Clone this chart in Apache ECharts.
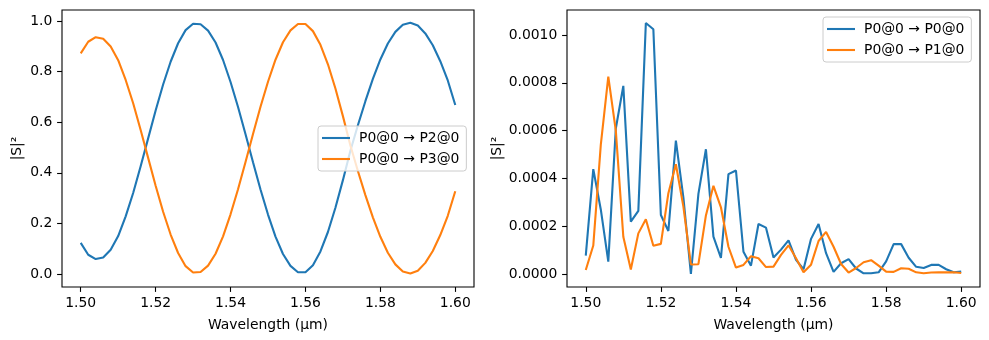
<!DOCTYPE html>
<html>
<head>
<meta charset="utf-8">
<script src="https://cdn.jsdelivr.net/npm/echarts@6/dist/echarts.min.js"></script>
<style>
  html, body { margin: 0; padding: 0; background: #fff; }
  #chart { width: 989px; height: 340px; }
</style>
</head>
<body>
<div id="chart"></div>
<script>
// Wavelength samples (µm)
const wavelength = [
  1.500, 1.502, 1.504, 1.506, 1.508, 1.510, 1.512, 1.514, 1.516, 1.518,
  1.520, 1.522, 1.524, 1.526, 1.528, 1.530, 1.532, 1.534, 1.536, 1.538,
  1.540, 1.542, 1.544, 1.546, 1.548, 1.550, 1.552, 1.554, 1.556, 1.558,
  1.560, 1.562, 1.564, 1.566, 1.568, 1.570, 1.572, 1.574, 1.576, 1.578,
  1.580, 1.582, 1.584, 1.586, 1.588, 1.590, 1.592, 1.594, 1.596, 1.598,
  1.600
];

// Transmission |S|² into the two output ports
const p0ToP2 = [
  0.123, 0.076, 0.059, 0.065, 0.096, 0.150, 0.228, 0.320, 0.426, 0.536,
  0.646, 0.749, 0.839, 0.912, 0.964, 0.989, 0.987, 0.962, 0.915, 0.846,
  0.759, 0.660, 0.552, 0.442, 0.334, 0.235, 0.148, 0.079, 0.032, 0.007,
  0.007, 0.035, 0.089, 0.166, 0.262, 0.371, 0.487, 0.588, 0.683, 0.771,
  0.848, 0.911, 0.957, 0.985, 0.993, 0.982, 0.951, 0.904, 0.841, 0.765,
  0.668
];
const p0ToP3 = [
  0.872, 0.918, 0.936, 0.930, 0.899, 0.845, 0.767, 0.675, 0.569, 0.459,
  0.349, 0.246, 0.156, 0.083, 0.031, 0.006, 0.008, 0.033, 0.080, 0.149,
  0.236, 0.335, 0.443, 0.553, 0.661, 0.760, 0.847, 0.916, 0.963, 0.988,
  0.988, 0.960, 0.906, 0.829, 0.733, 0.624, 0.508, 0.407, 0.312, 0.224,
  0.147, 0.084, 0.038, 0.010, 0.002, 0.013, 0.044, 0.091, 0.154, 0.230,
  0.327
];

// Reflection / crosstalk |S|² back into the input side
const p0ToP0 = [
  0.000077, 0.000439, 0.000270, 0.000052, 0.000609, 0.000787, 0.000219, 0.000264, 0.001050, 0.001024,
  0.000247, 0.000180, 0.000558, 0.000320, 0.000000, 0.000335, 0.000522, 0.000156, 0.000067, 0.000418,
  0.000433, 0.000093, 0.000035, 0.000209, 0.000194, 0.000069, 0.000102, 0.000141, 0.000059, 0.000020,
  0.000147, 0.000209, 0.000087, 0.000009, 0.000045, 0.000062, 0.000023, 0.000003, 0.000003, 0.000007,
  0.000053, 0.000125, 0.000125, 0.000068, 0.000030, 0.000025, 0.000038, 0.000038, 0.000020, 0.000007,
  0.000010
];
const p0ToP1 = [
  0.000017, 0.000119, 0.000540, 0.000826, 0.000600, 0.000156, 0.000019, 0.000170, 0.000229, 0.000118,
  0.000126, 0.000338, 0.000459, 0.000282, 0.000040, 0.000041, 0.000245, 0.000369, 0.000279, 0.000114,
  0.000027, 0.000038, 0.000074, 0.000066, 0.000029, 0.000031, 0.000080, 0.000120, 0.000066, 0.000007,
  0.000039, 0.000138, 0.000176, 0.000114, 0.000042, 0.000006, 0.000025, 0.000049, 0.000058, 0.000035,
  0.000010, 0.000009, 0.000024, 0.000022, 0.000007, 0.000003, 0.000006, 0.000007, 0.000007, 0.000007,
  0.000004
];

// Tick positions
const xTicks = [1.50, 1.52, 1.54, 1.56, 1.58, 1.60];
const yTicksLeft = [0.0, 0.2, 0.4, 0.6, 0.8, 1.0];
const yTicksRight = [0.0, 0.0002, 0.0004, 0.0006, 0.0008, 0.0010];

const FONT = 'DejaVu Sans';
const FS = 13.9;
const BLUE = '#1f77b4';
const ORANGE = '#ff7f0e';

function pairs(ys) {
  return wavelength.map((x, i) => [x, ys[i]]);
}

function xAxisFor(gridIndex) {
  return {
    type: 'value', gridIndex, min: 1.495, max: 1.605, position: 'bottom',
    name: 'Wavelength (µm)', nameLocation: 'middle', nameGap: 31,
    nameTextStyle: { fontFamily: FONT, fontSize: FS, color: '#000' },
    axisLine: { show: false, onZero: false },
    splitLine: { show: false },
    axisTick: { show: true, customValues: xTicks, length: 4.9, lineStyle: { color: '#000', width: 1.1 } },
    axisLabel: {
      customValues: xTicks, margin: 9.7, fontFamily: FONT, fontSize: FS, color: '#000',
      formatter: v => v.toFixed(2)
    }
  };
}

function yAxisFor(gridIndex, min, max, ticks, digits, gap) {
  return {
    type: 'value', gridIndex, min, max, position: 'left',
    name: '|S|²', nameLocation: 'middle', nameGap: gap, nameRotate: 90,
    nameTextStyle: { fontFamily: FONT, fontSize: FS, color: '#000' },
    axisLine: { show: false, onZero: false },
    splitLine: { show: false },
    axisTick: { show: true, customValues: ticks, length: 4.9, lineStyle: { color: '#000', width: 1.1 } },
    axisLabel: {
      customValues: ticks, margin: 9.7, fontFamily: FONT, fontSize: FS, color: '#000',
      formatter: v => v.toFixed(digits)
    }
  };
}

function lineSeries(name, ys, color, idx) {
  return {
    name, type: 'line', xAxisIndex: idx, yAxisIndex: idx,
    data: pairs(ys), symbol: 'none', smooth: false, animation: false,
    lineStyle: { color, width: 2.1 }, itemStyle: { color }
  };
}

function legendAt(left, top, names) {
  return {
    orient: 'vertical', left, top, data: names,
    icon: 'rect', itemWidth: 28, itemHeight: 2.1, itemGap: 7,
    padding: [5, 7, 5, 4],
    backgroundColor: 'rgba(255,255,255,0.8)',
    borderColor: '#cccccc', borderWidth: 1, borderRadius: 3,
    selectedMode: false,
    textStyle: { fontFamily: FONT, fontSize: FS, color: '#000', lineHeight: 14, padding: [0, 0, 0, 4] }
  };
}

const chart = echarts.init(document.getElementById('chart'), null, { renderer: 'canvas' });
chart.setOption({
  animation: false,
  backgroundColor: '#fff',
  grid: [
    { left: 62, top: 10, width: 412, height: 277, show: true, borderColor: '#000', borderWidth: 1.1, backgroundColor: 'transparent' },
    { left: 567, top: 10, width: 413, height: 277, show: true, borderColor: '#000', borderWidth: 1.1, backgroundColor: 'transparent' }
  ],
  xAxis: [xAxisFor(0), xAxisFor(1)],
  yAxis: [
    yAxisFor(0, -0.0514, 1.0435, yTicksLeft, 1, 38),
    yAxisFor(1, -0.0000544, 0.0011046, yTicksRight, 4, 63)
  ],
  legend: [
    legendAt(318, 126, ['P0@0 → P2@0', 'P0@0 → P3@0']),
    legendAt(823, 17, ['P0@0 → P0@0', 'P0@0 → P1@0'])
  ],
  series: [
    lineSeries('P0@0 → P2@0', p0ToP2, BLUE, 0),
    lineSeries('P0@0 → P3@0', p0ToP3, ORANGE, 0),
    lineSeries('P0@0 → P0@0', p0ToP0, BLUE, 1),
    lineSeries('P0@0 → P1@0', p0ToP1, ORANGE, 1)
  ]
});
</script>
</body>
</html>
